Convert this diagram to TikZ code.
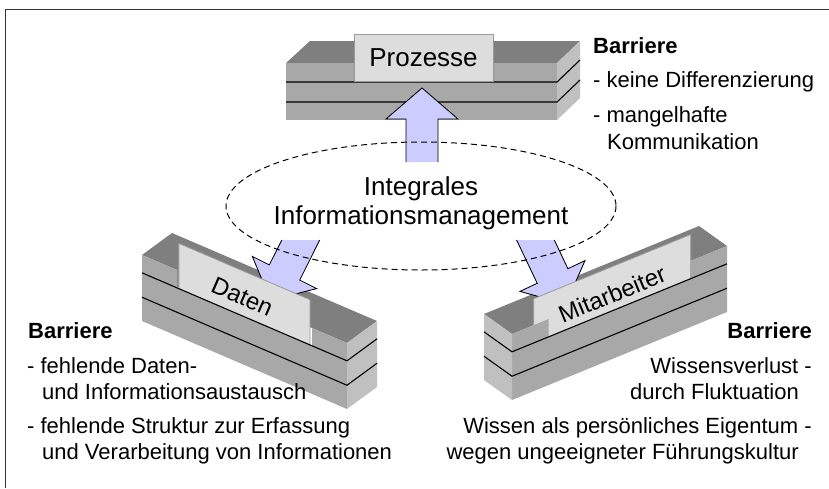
\documentclass[tikz,border=0pt]{standalone}
\usepackage{fontspec}
\setmainfont{Liberation Sans}
\usetikzlibrary{calc}

\definecolor{topgray}{HTML}{7F7F7F}
\definecolor{frontgray}{HTML}{A8A8A8}
\definecolor{sidegray}{HTML}{C0C0C0}
\definecolor{innergray}{HTML}{8C8C8C}
\definecolor{cardgray}{HTML}{DDDDDD}
\definecolor{cardedge}{HTML}{9A9A9A}
\definecolor{arrowblue}{HTML}{CCCCFF}

\tikzset{
  layerline/.style={draw=black, line width=1.1pt},
  cardface/.style={fill=cardgray, draw=cardedge, line width=0.8pt},
  fatarrow/.style={fill=arrowblue},
  arrowedge/.style={draw=black, line width=0.85pt, line join=miter},
  bodytext/.style={font=\fontsize{22}{26}\selectfont, inner sep=0pt},
  labeltext/.style={font=\fontsize{26}{30}\selectfont, inner sep=0pt},
  tiltlabel/.style={font=\fontsize{24}{28}\selectfont, inner sep=0pt},
}

\begin{document}
\begin{tikzpicture}[x=1pt,y=-1pt]
\useasboundingbox (0,0) rectangle (829,488);

% outer frame
\draw[line width=1.6pt, draw=black!80] (5.5,488) -- (5.5,9.5) -- (829,9.5);

% ---------------- Prozesse block ----------------
\fill[topgray] (286,63) -- (310,41) -- (580,41) -- (557,63) -- cycle;
\fill[frontgray] (286,63) rectangle (557,120);
\fill[sidegray] (557,63) -- (580,41) -- (580,98) -- (557,120) -- cycle;
\draw[layerline] (286,82) -- (557,82) -- (580,60);
\draw[layerline] (286,102) -- (557,102) -- (580,80);
\node[cardface, minimum width=139pt, minimum height=47pt, inner sep=0pt,
      labeltext] (proz) at (423.5,57.5) {Prozesse};

% arrow up to Prozesse
\coordinate (upA) at (406,162);
\coordinate (upB) at (438,162);
\fill[fatarrow] (upA) -- (406,119) -- (386,119) -- (422,88) -- (458,119) -- (438,119) -- (upB) -- cycle;
\draw[arrowedge] (upA) -- (406,119) -- (386,119) -- (422,88) -- (458,119) -- (438,119) -- (upB);

% ---------------- Daten block ----------------
\coordinate (dO) at (142,255);
\coordinate (dL) at (205,88);
\coordinate (dD) at (30,-22);
\coordinate (dH) at (0,66);
% top face
\fill[topgray] (dO) -- ($(dO)+(dD)$) -- ($(dO)+(dD)+(dL)$) -- ($(dO)+(dL)$) -- cycle;
% inner wall of the trough behind the left end
\fill[innergray] ($(dO)+0.17*(dL)$) -- ($(dO)+0.17*(dL)+0.85*(dD)$) -- ($(dO)+0.17*(dL)+0.85*(dD)+(0,18)$) -- ($(dO)+0.17*(dL)+(0,18)$) -- cycle;
% arrow to Daten (above the top face, below the card)
\coordinate (dA) at (281.8,240);
\coordinate (dB) at (319.7,240);
\fill[fatarrow] (dA) -- (269.3,264.9) -- (252.3,256.4) -- (270.6,300.2) -- (316.7,288.6) -- (299.7,280.1) -- (dB) -- cycle;
\draw[arrowedge] (dA) -- (269.3,264.9) -- (252.3,256.4) -- (270.6,300.2) -- (316.7,288.6) -- (299.7,280.1) -- (dB);
% card
\filldraw[cardface] ($(dO)+0.136*(dL)+0.3*(dD)+(0,-17)$) -- ($(dO)+0.776*(dL)+0.3*(dD)+(0,-17)$)
   -- ($(dO)+0.776*(dL)+0.3*(dD)+(0,40)$) -- ($(dO)+0.136*(dL)+0.3*(dD)+(0,40)$) -- cycle;
\node[tiltlabel, rotate=-23.5] (daten) at ($(dO)+0.45*(dL)+0.3*(dD)+(-1,9)$) {Daten};
% front face with lowered middle wall
\fill[frontgray] (dO) -- ($(dO)+0.17*(dL)$) -- ($(dO)+0.17*(dL)+(0,18)$) -- ($(dO)+0.83*(dL)+(0,18)$)
   -- ($(dO)+0.83*(dL)$) -- ($(dO)+(dL)$) -- ($(dO)+(dL)+(dH)$) -- ($(dO)+(dH)$) -- cycle;
% right end face
\fill[sidegray] ($(dO)+(dL)$) -- ($(dO)+(dL)+(dD)$) -- ($(dO)+(dL)+(dD)+(dH)$) -- ($(dO)+(dL)+(dH)$) -- cycle;
\draw[layerline] ($(dO)+0.27*(dH)$) -- ($(dO)+(dL)+0.27*(dH)$) -- ($(dO)+(dL)+(dD)+0.27*(dH)$);
\draw[layerline] ($(dO)+0.64*(dH)$) -- ($(dO)+(dL)+0.64*(dH)$) -- ($(dO)+(dL)+(dD)+0.64*(dH)$);

% ---------------- Mitarbeiter block ----------------
\coordinate (mO) at (727,246);
\coordinate (mL) at (-215,88);
\coordinate (mD) at (-28,-20);
\coordinate (mH) at (0,66);
\fill[topgray] (mO) -- ($(mO)+(mD)$) -- ($(mO)+(mD)+(mL)$) -- ($(mO)+(mL)$) -- cycle;
\fill[innergray] ($(mO)+0.17*(mL)$) -- ($(mO)+0.17*(mL)+0.85*(mD)$) -- ($(mO)+0.17*(mL)+0.85*(mD)+(0,18)$) -- ($(mO)+0.17*(mL)+(0,18)$) -- cycle;
% arrow to Mitarbeiter
\coordinate (mA) at (516.6,240);
\coordinate (mB) at (554.3,240);
\fill[fatarrow] (mA) -- (537.2,283.3) -- (520,291.4) -- (565.8,304) -- (585,260.6) -- (567.9,268.7) -- (mB) -- cycle;
\draw[arrowedge] (mA) -- (537.2,283.3) -- (520,291.4) -- (565.8,304) -- (585,260.6) -- (567.9,268.7) -- (mB);
\filldraw[cardface] ($(mO)+0.13*(mL)+0.3*(mD)+(0,-17)$) -- ($(mO)+0.86*(mL)+0.3*(mD)+(0,-17)$)
   -- ($(mO)+0.86*(mL)+0.3*(mD)+(0,40)$) -- ($(mO)+0.13*(mL)+0.3*(mD)+(0,40)$) -- cycle;
\node[tiltlabel, rotate=22.3] (mitarb) at ($(mO)+0.5*(mL)+0.3*(mD)+(1,10)$) {Mitarbeiter};
\fill[frontgray] (mO) -- ($(mO)+0.17*(mL)$) -- ($(mO)+0.17*(mL)+(0,18)$) -- ($(mO)+0.83*(mL)+(0,18)$)
   -- ($(mO)+0.83*(mL)$) -- ($(mO)+(mL)$) -- ($(mO)+(mL)+(mH)$) -- ($(mO)+(mH)$) -- cycle;
\fill[sidegray] ($(mO)+(mL)$) -- ($(mO)+(mL)+(mD)$) -- ($(mO)+(mL)+(mD)+(mH)$) -- ($(mO)+(mL)+(mH)$) -- cycle;
\draw[layerline] ($(mO)+0.27*(mH)$) -- ($(mO)+(mL)+0.27*(mH)$) -- ($(mO)+(mL)+(mD)+0.27*(mH)$);
\draw[layerline] ($(mO)+0.64*(mH)$) -- ($(mO)+(mL)+0.64*(mH)$) -- ($(mO)+(mL)+(mD)+0.64*(mH)$);

% ---------------- centre ellipse ----------------
\draw[dash pattern=on 6pt off 4pt, line width=1pt] (421,206) ellipse [x radius=195, y radius=64];
\node[labeltext, anchor=base] (integ) at (421,195) {Integrales};
\node[labeltext, anchor=base] (infman) at (421,224) {Informationsmanagement};

% ---------------- barrier texts ----------------
\node[bodytext, anchor=base west, font=\bfseries\fontsize{22}{26}\selectfont] (bp) at (593,53) {Barriere};
\node[bodytext, anchor=base west] (bp1) at (593,87) {- keine Differenzierung};
\node[bodytext, anchor=base west] (bp2) at (593,122) {- mangelhafte};
\node[bodytext, anchor=base west] (bp3) at (607,149) {Kommunikation};

\node[bodytext, anchor=base west, font=\bfseries\fontsize{22}{26}\selectfont] (bd) at (28,338) {Barriere};
\node[bodytext, anchor=base west] (bd1) at (27,373) {- fehlende Daten-};
\node[bodytext, anchor=base west] (bd2) at (42,399) {und Informationsaustausch};
\node[bodytext, anchor=base west] (bd3) at (27,433) {- fehlende Struktur zur Erfassung};
\node[bodytext, anchor=base west] (bd4) at (42,459) {und Verarbeitung von Informationen};

\node[bodytext, anchor=base east, font=\bfseries\fontsize{22}{26}\selectfont] (bm) at (812,338) {Barriere};
\node[bodytext, anchor=base east] (bm1) at (812,373) {Wissensverlust -};
\node[bodytext, anchor=base east] (bm2) at (799,399) {durch Fluktuation};
\node[bodytext, anchor=base east] (bm3) at (812,433) {Wissen als persönliches Eigentum -};
\node[bodytext, anchor=base east] (bm4) at (799,459) {wegen ungeeigneter Führungskultur};
\end{tikzpicture}
\end{document}
